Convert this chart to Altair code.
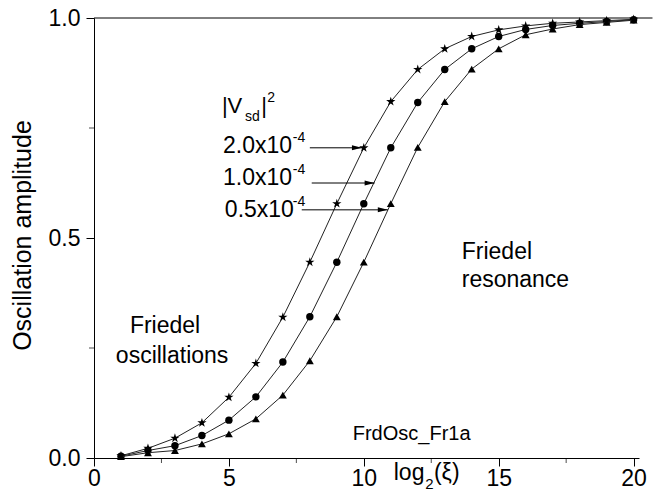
import altair as alt
import pandas as pd

# ---- data ----
log2_xi = list(range(1, 21))
amp_2e4 = [0.005, 0.022, 0.045, 0.080, 0.138, 0.215, 0.320, 0.445, 0.578, 0.705,
           0.810, 0.883, 0.930, 0.958, 0.973, 0.982, 0.988, 0.991, 0.994, 0.997]
amp_1e4 = [0.004, 0.017, 0.028, 0.051, 0.086, 0.139, 0.218, 0.321, 0.445, 0.578,
           0.705, 0.808, 0.883, 0.930, 0.958, 0.974, 0.983, 0.988, 0.992, 0.996]
amp_05e4 = [0.003, 0.012, 0.017, 0.032, 0.055, 0.089, 0.143, 0.221, 0.321, 0.445,
            0.578, 0.706, 0.810, 0.884, 0.930, 0.962, 0.975, 0.985, 0.990, 0.995]
series_names = ["2.0x10-4", "1.0x10-4", "0.5x10-4"]

STAR = ("M0,-1L0.2245,-0.309L0.951,-0.309L0.3633,0.118L0.588,0.809L0,0.382"
        "L-0.588,0.809L-0.3633,0.118L-0.951,-0.309L-0.2245,-0.309Z")
series_shapes = [STAR, "circle", "triangle-up"]
series_sizes = [95, 55, 62]

x_ticks = [0, 5, 10, 15, 20]
x_minor = [2.5, 7.5, 12.5, 17.5]
y_ticks = [0.0, 0.5, 1.0]
y_minor = [0.25, 0.75]

series_values = [amp_2e4, amp_1e4, amp_05e4]

# annotation texts (data units)
ann_text = ["|V", "sd", "|", "2",
            "2.0x10", "-4", "1.0x10", "-4", "0.5x10", "-4",
            "Friedel", "resonance", "Friedel", "oscillations", "FrdOsc_Fr1a",
            "log", "2", "(ξ)"]
ann_x = [4.74, 5.60, 6.20, 6.42,
         4.78, 7.37, 4.78, 7.37, 4.85, 7.37,
         13.63, 13.63, 1.33, 0.81, 9.59,
         11.11, 12.28, 12.60]
ann_y = [0.784, 0.766, 0.784, 0.809,
         0.693, 0.718, 0.620, 0.645, 0.548, 0.573,
         0.452, 0.389, 0.284, 0.216, 0.041,
         -0.050, -0.071, -0.050]
ann_size = [22, 14, 22, 14,
            23, 14, 23, 14, 23, 14,
            23, 23, 23, 23, 20,
            23, 15, 23]
ann = pd.DataFrame({"text": ann_text, "x": ann_x, "y": ann_y, "fs": ann_size})

# arrows (data units)
arrow_x1 = [8.00, 8.07, 7.70]
arrow_x2 = [9.93, 10.40, 10.89]
arrow_y = [0.705, 0.625, 0.564]
arrows = pd.DataFrame({"x1": arrow_x1, "x2": arrow_x2, "y": arrow_y})

FONT = "Liberation Sans"
xscale = alt.Scale(domain=[0, 20.2], nice=False, zero=False)
yscale = alt.Scale(domain=[0, 1], nice=False)

AX = alt.Axis(values=x_ticks, format="d", title=None, grid=False,
              orient="bottom", tickSize=8, labelPadding=1, labelFontSize=23,
              labelFont=FONT, labelColor="black", domainColor="black",
              tickColor="black", labelFlush=False)
AY = alt.Axis(values=y_ticks, format=".1f", title="Oscillation amplitude",
              orient="left", grid=False, tickSize=8, labelPadding=6, labelFontSize=23,
              labelFont=FONT, labelColor="black", domainColor="black",
              tickColor="black", titleFont=FONT, titleFontSize=25,
              titleFontWeight="normal", titleColor="black",
              titleX=-59, titleY=217, titleAngle=270,
              titleAlign="center", titleBaseline="bottom", labelFlush=False)

X = lambda f: alt.X(f, scale=xscale, axis=AX)
Y = lambda f: alt.Y(f, scale=yscale, axis=AY)

layers = []

top_line = alt.Chart(pd.DataFrame({"x1": [0.0], "x2": [20.7], "y": [1.0]})).mark_rule(
    color="black", strokeWidth=1
).encode(x=X("x1:Q"), x2="x2:Q", y=Y("y:Q"))
layers.append(top_line)

for name, vals, shp, sz in zip(series_names, series_values, series_shapes, series_sizes):
    sdf = pd.DataFrame({"x": log2_xi, "y": vals})
    layers.append(alt.Chart(sdf).mark_line(color="#222222", strokeWidth=1).encode(
        x=X("x:Q"), y=Y("y:Q")))
    layers.append(alt.Chart(sdf).mark_point(
        shape=shp, size=sz, filled=True, opacity=1, color="black").encode(
        x=X("x:Q"), y=Y("y:Q")))

xminor = alt.Chart(pd.DataFrame({"x": x_minor, "y": [0.0] * len(x_minor)})).mark_tick(
    size=5, thickness=1, color="black", yOffset=2.5
).encode(x=X("x:Q"), y=Y("y:Q"))
yminor = alt.Chart(pd.DataFrame({"x": [0.0] * len(y_minor), "y": y_minor})).mark_tick(
    size=5, thickness=1, color="black", xOffset=-2.5, orient="horizontal"
).encode(x=X("x:Q"), y=Y("y:Q"))
layers += [xminor, yminor]

arrow_lines = alt.Chart(arrows).mark_rule(color="black", strokeWidth=1).encode(
    x=X("x1:Q"), x2="x2:Q", y=Y("y:Q"))
arrow_heads = alt.Chart(arrows).mark_point(
    shape="M0,0L-2,-0.5L-2,0.5Z", filled=True, color="black", opacity=1, size=100
).encode(x=X("x2:Q"), y=Y("y:Q"))
layers += [arrow_lines, arrow_heads]

texts = alt.Chart(ann).mark_text(
    align="left", baseline="alphabetic", font=FONT, color="black"
).encode(
    x=X("x:Q"), y=Y("y:Q"),
    text="text:N",
    size=alt.Size("fs:Q", scale=None),
)
layers.append(texts)

chart = alt.layer(*layers).properties(
    width=545, height=440,
    autosize=alt.AutoSizeParams(type="none"),
    padding={"left": 94, "top": 18, "right": 27, "bottom": 46},
).configure_view(stroke=None).configure_axis(domainWidth=1, tickWidth=1)

chart.save("out.html", embed_options={"renderer": "svg", "actions": False})
